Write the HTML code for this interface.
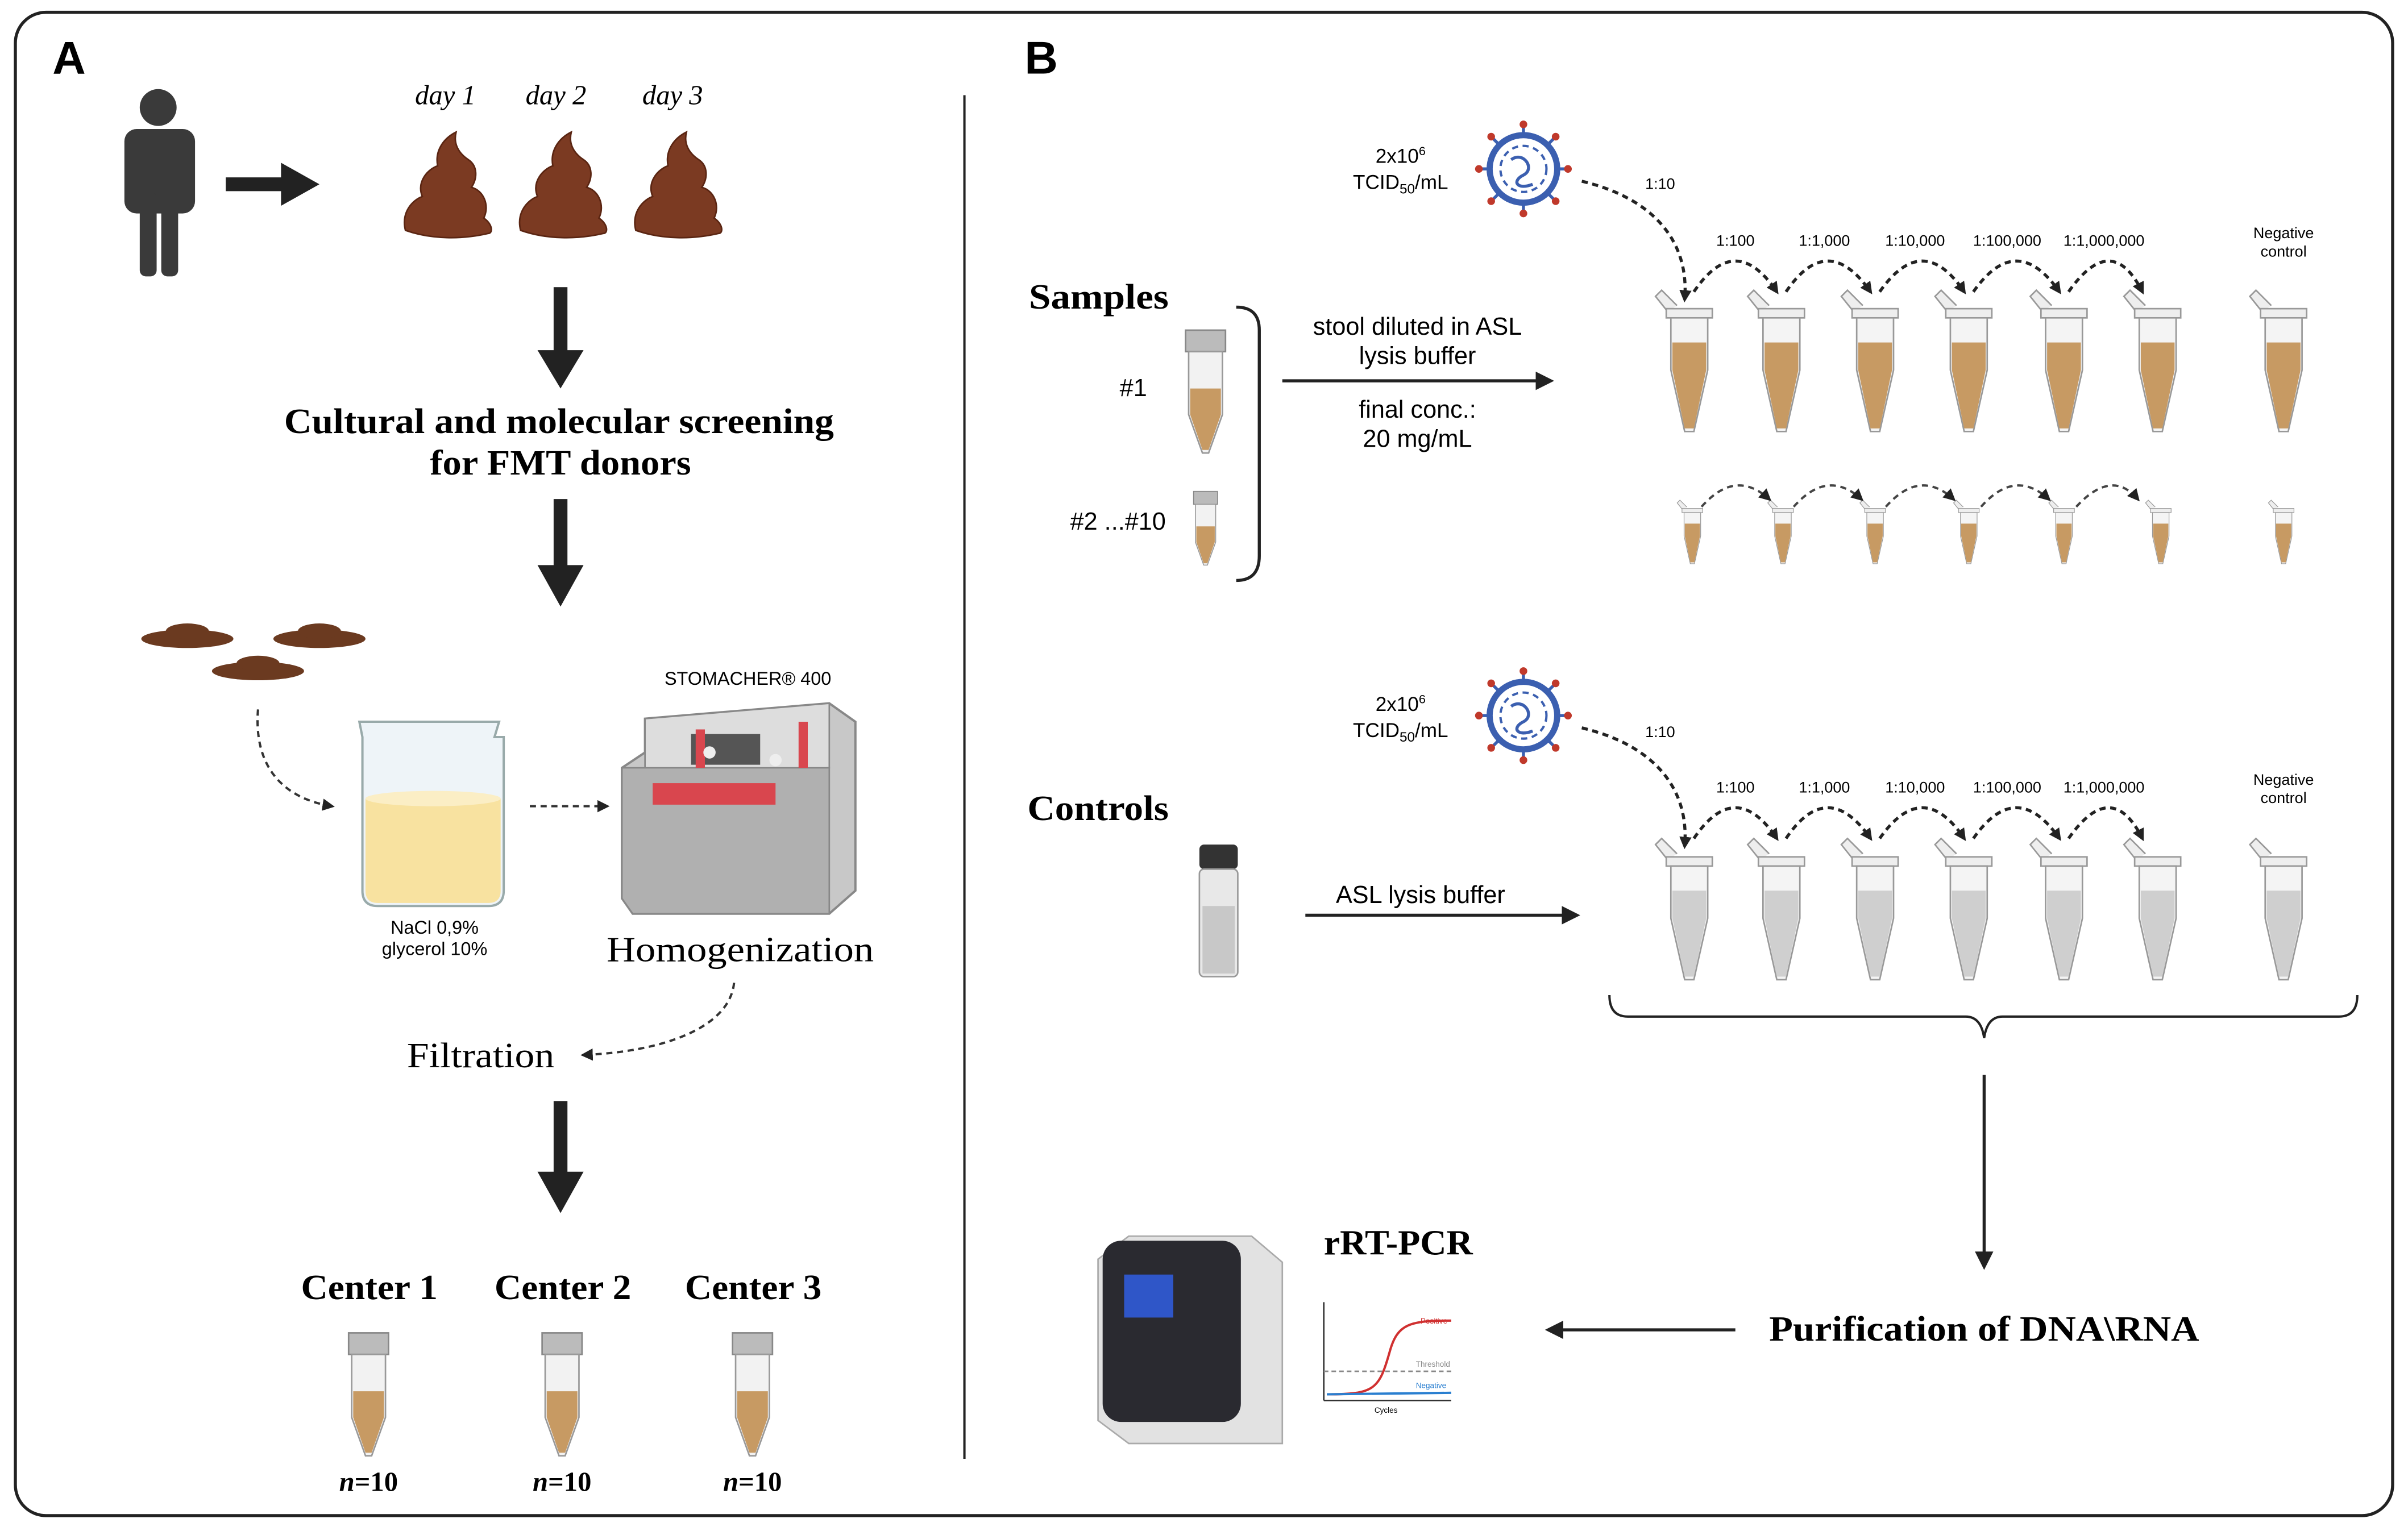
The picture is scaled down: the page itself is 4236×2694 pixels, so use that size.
<!DOCTYPE html>
<html><head><meta charset="utf-8"><style>
html,body{margin:0;padding:0;background:#fff;}
svg{display:block;}
.sf{font-family:"Liberation Serif",serif;font-weight:bold;}
.s{font-family:"Liberation Sans",sans-serif;}
</style></head><body>
<svg width="4236" height="2694" viewBox="0 0 1568 997" preserveAspectRatio="none" xmlns="http://www.w3.org/2000/svg">
<defs>
<marker id="ah" markerWidth="8" markerHeight="8" refX="6" refY="4" orient="auto" markerUnits="userSpaceOnUse"><path d="M0,0 L8,4 L0,8 z" fill="#222"/></marker>
<marker id="ah2" markerWidth="12" markerHeight="12" refX="10" refY="6" orient="auto" markerUnits="userSpaceOnUse"><path d="M0,0 L12,6 L0,12 z" fill="#222"/></marker>
<g id="poop">
<path d="M-27,30 C-30,18 -22,10 -16,8 C-20,-2 -12,-10 -6,-12 C-8,-22 -2,-30 6,-34 C4,-26 8,-20 14,-16 C20,-12 20,-4 16,2 C24,4 28,14 24,22 C30,26 30,32 27,32 C10,36 -10,36 -27,30 z" fill="#7b3a22" stroke="#5a2512" stroke-width="1"/>
</g>
<g id="tubeB">
<path d="M-14,-40 L-22,-50 L-18,-54 L-8,-44" fill="#eee" stroke="#999" stroke-width="1"/>
<rect x="-15" y="-42" width="30" height="6" fill="#eee" stroke="#999" stroke-width="1"/>
<path d="M-12,-36 L12,-36 L12,-2 L3,38 L-3,38 L-12,-2 z" fill="#f4f4f4" stroke="#999" stroke-width="1"/>
<path d="M-11,-20 L11,-20 L11,-2 L3,36 L-3,36 L-11,-2 z" fill="#c79a63"/>
</g>
<g id="tubeG">
<path d="M-14,-40 L-22,-50 L-18,-54 L-8,-44" fill="#eee" stroke="#999" stroke-width="1"/>
<rect x="-15" y="-42" width="30" height="6" fill="#eee" stroke="#999" stroke-width="1"/>
<path d="M-12,-36 L12,-36 L12,-2 L3,38 L-3,38 L-12,-2 z" fill="#f4f4f4" stroke="#999" stroke-width="1"/>
<path d="M-11,-20 L11,-20 L11,-2 L3,36 L-3,36 L-11,-2 z" fill="#cfcfcf"/>
</g>
<g id="falcon">
<rect x="-13" y="0" width="26" height="14" fill="#bbb" stroke="#888"/>
<path d="M-11,14 L11,14 L11,55 L2,80 L-2,80 L-11,55 z" fill="#f2f2f2" stroke="#999"/>
<path d="M-10,38 L10,38 L10,55 L2,78 L-2,78 L-10,55 z" fill="#c79a63"/>
</g>
<g id="virus">
<circle r="22" fill="#fff" stroke="#3b5fb0" stroke-width="4"/>
<circle r="15" fill="none" stroke="#3b5fb0" stroke-width="1.5" stroke-dasharray="4 3"/>
<path d="M-8,-6 C0,-12 8,0 0,4 C-8,8 -4,14 6,10" fill="none" stroke="#3b5fb0" stroke-width="2"/>
<g stroke="#3b5fb0" stroke-width="2">
<line x1="0" y1="-22" x2="0" y2="-28"/><line x1="0" y1="22" x2="0" y2="28"/><line x1="-22" y1="0" x2="-28" y2="0"/><line x1="22" y1="0" x2="28" y2="0"/>
<line x1="15" y1="15" x2="20" y2="20"/><line x1="-15" y1="15" x2="-20" y2="20"/><line x1="15" y1="-15" x2="20" y2="-20"/><line x1="-15" y1="-15" x2="-20" y2="-20"/>
</g>
<g fill="#c0392b"><circle cx="0" cy="-29" r="2.5"/><circle cx="0" cy="29" r="2.5"/><circle cx="29" cy="0" r="2.5"/><circle cx="-29" cy="0" r="2.5"/><circle cx="21" cy="21" r="2.5"/><circle cx="-21" cy="21" r="2.5"/><circle cx="21" cy="-21" r="2.5"/><circle cx="-21" cy="-21" r="2.5"/></g>
</g>
</defs>
<rect x="10" y="8" width="1548" height="979" rx="20" fill="none" stroke="#222" stroke-width="2"/>
<text x="45" y="48" class="s" font-size="30" font-weight="bold" text-anchor="middle">A</text>
<text x="678" y="48" class="s" font-size="30" font-weight="bold" text-anchor="middle">B</text>
<line x1="628" y1="62" x2="628" y2="950" stroke="#222" stroke-width="1.5"/>

<g fill="#3a3a3a"><circle cx="103" cy="70" r="12"/><rect x="81" y="84" width="46" height="55" rx="8"/><rect x="91" y="125" width="11" height="55" rx="4"/><rect x="105" y="125" width="11" height="55" rx="4"/></g>
<line x1="147" y1="120" x2="185" y2="120" stroke="#222" stroke-width="9"/><path d="M183,106 L208,120 L183,134 z" fill="#222"/>
<g font-family="Liberation Serif,serif" font-style="italic" font-size="18" text-anchor="middle"><text x="290" y="68">day 1</text><text x="362" y="68">day 2</text><text x="438" y="68">day 3</text></g>
<use href="#poop" x="291" y="120"/><use href="#poop" x="366" y="120"/><use href="#poop" x="441" y="120"/>
<line x1="365" y1="187" x2="365" y2="232" stroke="#222" stroke-width="9"/><path d="M350,228 L380,228 L365,253 z" fill="#222"/>
<text x="185" y="282" class="sf" font-size="23" textLength="358" lengthAdjust="spacingAndGlyphs">Cultural and molecular screening</text>
<text x="280" y="309" class="sf" font-size="23" textLength="170" lengthAdjust="spacingAndGlyphs">for FMT donors</text>
<line x1="365" y1="325" x2="365" y2="372" stroke="#222" stroke-width="9"/><path d="M350,368 L380,368 L365,395 z" fill="#222"/>
<g fill="#6b3a20"><ellipse cx="122" cy="416" rx="30" ry="6"/><ellipse cx="208" cy="416" rx="30" ry="6"/><ellipse cx="168" cy="437" rx="30" ry="6"/><ellipse cx="122" cy="411" rx="14" ry="5"/><ellipse cx="208" cy="411" rx="14" ry="5"/><ellipse cx="168" cy="432" rx="14" ry="5"/></g>
<path d="M168,462 C165,500 185,520 216,525" fill="none" stroke="#333" stroke-width="1.5" stroke-dasharray="4 3" marker-end="url(#ah)"/>
<path d="M234,470 L325,470 L322,480 L328,480 L328,580 Q328,590 318,590 L246,590 Q236,590 236,580 L236,480 z" fill="#eef4f8" stroke="#9aa" stroke-width="1.5"/>
<path d="M238,520 L326,520 L326,580 Q326,588 318,588 L246,588 Q238,588 238,580 z" fill="#f8e2a0"/>
<ellipse cx="282" cy="520" rx="44" ry="5" fill="#fbeec5"/>
<text x="283" y="608" class="s" font-size="12" text-anchor="middle">NaCl 0,9%</text>
<text x="283" y="622" class="s" font-size="12" text-anchor="middle">glycerol 10%</text>
<line x1="345" y1="525" x2="395" y2="525" stroke="#333" stroke-width="1.5" stroke-dasharray="4 3" marker-end="url(#ah)"/>
<text x="487" y="446" class="s" font-size="12" text-anchor="middle">STOMACHER® 400</text>
<path d="M420,468 L540,458 L557,470 L557,580 L540,595 L412,595 L405,585 L405,500 L420,490 z" fill="#c8c8c8" stroke="#888" stroke-width="1.5"/>
<path d="M420,468 L540,458 L540,500 L420,505 z" fill="#ddd" stroke="#888"/>
<path d="M405,500 L540,500 L540,595 L412,595 L405,585 z" fill="#b0b0b0" stroke="#888"/>
<rect x="450" y="478" width="45" height="20" fill="#555"/>
<rect x="425" y="510" width="80" height="14" fill="#d9464e"/><rect x="453" y="475" width="6" height="25" fill="#d9464e"/><rect x="520" y="470" width="6" height="30" fill="#d9464e"/>
<circle cx="462" cy="490" r="4" fill="#eee"/><circle cx="505" cy="495" r="4" fill="#eee"/>
<text x="395" y="626" font-family="Liberation Serif,serif" font-size="23" textLength="174" lengthAdjust="spacingAndGlyphs">Homogenization</text>
<path d="M478,640 C475,670 430,685 380,687" fill="none" stroke="#333" stroke-width="1.5" stroke-dasharray="4 3" marker-end="url(#ah)"/>
<text x="265" y="695" font-family="Liberation Serif,serif" font-size="23" textLength="96" lengthAdjust="spacingAndGlyphs">Filtration</text>
<line x1="365" y1="717" x2="365" y2="767" stroke="#222" stroke-width="9"/><path d="M350,763 L380,763 L365,790 z" fill="#222"/>
<g class="sf" font-size="23"><text x="196" y="846" textLength="89" lengthAdjust="spacingAndGlyphs">Center 1</text><text x="322" y="846" textLength="89" lengthAdjust="spacingAndGlyphs">Center 2</text><text x="446" y="846" textLength="89" lengthAdjust="spacingAndGlyphs">Center 3</text></g>
<use href="#falcon" x="240" y="868"/><use href="#falcon" x="366" y="868"/><use href="#falcon" x="490" y="868"/>
<g class="sf" font-size="18" text-anchor="middle"><text x="240" y="971"><tspan font-style="italic">n</tspan>=10</text><text x="366" y="971"><tspan font-style="italic">n</tspan>=10</text><text x="490" y="971"><tspan font-style="italic">n</tspan>=10</text></g>

<g class="s" font-size="13" text-anchor="middle"><text x="912" y="106">2x10<tspan font-size="8" dy="-5">6</tspan></text><text x="912" y="123">TCID<tspan font-size="9" dy="3">50</tspan><tspan dy="-3">/mL</tspan></text></g>
<use href="#virus" x="992" y="110"/>
<path d="M1030,118 C1080,130 1100,160 1097,195" fill="none" stroke="#222" stroke-width="2" stroke-dasharray="4 3" marker-end="url(#ah)"/>
<g class="s" font-size="10" text-anchor="middle"><text x="1081" y="123">1:10</text><text x="1130" y="160">1:100</text><text x="1188" y="160">1:1,000</text><text x="1247" y="160">1:10,000</text><text x="1307" y="160">1:100,000</text><text x="1370" y="160">1:1,000,000</text><text x="1487" y="155">Negative</text><text x="1487" y="167">control</text></g>
<g fill="none" stroke="#222" stroke-width="2" stroke-dasharray="4 3" marker-end="url(#ah)">
<path d="M1103,190 Q1130,150 1157,190"/><path d="M1163,190 Q1190,150 1218,190"/><path d="M1224,190 Q1252,150 1279,190"/><path d="M1285,190 Q1313,150 1341,190"/><path d="M1347,190 Q1375,150 1395,190"/>
</g>
<use href="#tubeB" x="1100" y="243"/><use href="#tubeB" x="1160" y="243"/><use href="#tubeB" x="1221" y="243"/><use href="#tubeB" x="1282" y="243"/><use href="#tubeB" x="1344" y="243"/><use href="#tubeB" x="1405" y="243"/><use href="#tubeB" x="1487" y="243"/>
<g>
<use href="#tubeB" transform="translate(1102,350) scale(0.45)"/><use href="#tubeB" transform="translate(1161,350) scale(0.45)"/><use href="#tubeB" transform="translate(1221,350) scale(0.45)"/><use href="#tubeB" transform="translate(1282,350) scale(0.45)"/><use href="#tubeB" transform="translate(1344,350) scale(0.45)"/><use href="#tubeB" transform="translate(1407,350) scale(0.45)"/><use href="#tubeB" transform="translate(1487,350) scale(0.45)"/>
</g>
<g fill="none" stroke="#444" stroke-width="1.5" stroke-dasharray="4 3" marker-end="url(#ah)">
<path d="M1108,330 Q1130,305 1152,325"/><path d="M1168,330 Q1190,305 1212,325"/><path d="M1228,330 Q1250,305 1272,325"/><path d="M1290,330 Q1312,305 1334,325"/><path d="M1352,330 Q1375,305 1392,325"/>
</g>
<text x="670" y="201" class="sf" font-size="23" textLength="91" lengthAdjust="spacingAndGlyphs">Samples</text>
<use href="#falcon" x="785" y="215"/>
<use href="#falcon" transform="translate(785,320) scale(0.6)"/>
<text x="738" y="258" class="s" font-size="16" text-anchor="middle">#1</text>
<text x="728" y="345" class="s" font-size="16" text-anchor="middle">#2 ...#10</text>
<path d="M805,200 Q820,200 820,215 L820,362 Q820,378 805,378" fill="none" stroke="#222" stroke-width="2"/>
<line x1="835" y1="248" x2="1010" y2="248" stroke="#222" stroke-width="2" marker-end="url(#ah2)"/>
<g class="s" font-size="16" text-anchor="middle"><text x="923" y="218">stool diluted in ASL</text><text x="923" y="237">lysis buffer</text><text x="923" y="272">final conc.:</text><text x="923" y="291">20 mg/mL</text></g>

<g class="s" font-size="13" text-anchor="middle"><text x="912" y="463">2x10<tspan font-size="8" dy="-5">6</tspan></text><text x="912" y="480">TCID<tspan font-size="9" dy="3">50</tspan><tspan dy="-3">/mL</tspan></text></g>
<use href="#virus" x="992" y="466"/>
<path d="M1030,474 C1080,486 1100,516 1097,551" fill="none" stroke="#222" stroke-width="2" stroke-dasharray="4 3" marker-end="url(#ah)"/>
<g class="s" font-size="10" text-anchor="middle"><text x="1081" y="480">1:10</text><text x="1130" y="516">1:100</text><text x="1188" y="516">1:1,000</text><text x="1247" y="516">1:10,000</text><text x="1307" y="516">1:100,000</text><text x="1370" y="516">1:1,000,000</text><text x="1487" y="511">Negative</text><text x="1487" y="523">control</text></g>
<g fill="none" stroke="#222" stroke-width="2" stroke-dasharray="4 3" marker-end="url(#ah)">
<path d="M1103,546 Q1130,506 1157,546"/><path d="M1163,546 Q1190,506 1218,546"/><path d="M1224,546 Q1252,506 1279,546"/><path d="M1285,546 Q1313,506 1341,546"/><path d="M1347,546 Q1375,506 1395,546"/>
</g>
<use href="#tubeG" x="1100" y="600"/><use href="#tubeG" x="1160" y="600"/><use href="#tubeG" x="1221" y="600"/><use href="#tubeG" x="1282" y="600"/><use href="#tubeG" x="1344" y="600"/><use href="#tubeG" x="1405" y="600"/><use href="#tubeG" x="1487" y="600"/>
<text x="669" y="534" class="sf" font-size="23" textLength="92" lengthAdjust="spacingAndGlyphs">Controls</text>
<rect x="781" y="550" width="25" height="16" rx="3" fill="#333"/>
<rect x="781" y="566" width="25" height="70" rx="3" fill="#e8e8e8" stroke="#999"/>
<rect x="783" y="590" width="21" height="44" fill="#c8c8c8"/>
<line x1="850" y1="596" x2="1027" y2="596" stroke="#222" stroke-width="2" marker-end="url(#ah2)"/>
<text x="925" y="588" class="s" font-size="16" text-anchor="middle">ASL lysis buffer</text>
<path d="M1048,648 Q1048,662 1060,662 L1280,662 Q1290,662 1292,676 Q1294,662 1304,662 L1523,662 Q1535,662 1535,648" fill="none" stroke="#222" stroke-width="1.5"/>
<line x1="1292" y1="700" x2="1292" y2="825" stroke="#222" stroke-width="2" marker-end="url(#ah2)"/>
<text x="1152" y="873" class="sf" font-size="23" textLength="280" lengthAdjust="spacingAndGlyphs">Purification of DNA\RNA</text>
<line x1="1130" y1="866" x2="1008" y2="866" stroke="#222" stroke-width="2" marker-end="url(#ah2)"/>
<text x="862" y="817" class="sf" font-size="23" textLength="97" lengthAdjust="spacingAndGlyphs">rRT-PCR</text>
<path d="M735,805 L815,805 L835,822 L835,940 L735,940 L715,925 L715,820 z" fill="#e2e2e2" stroke="#aaa"/>
<rect x="718" y="808" width="90" height="118" rx="12" fill="#2a2a30"/>
<rect x="732" y="830" width="32" height="28" fill="#2f56c8"/>
<line x1="862" y1="848" x2="862" y2="912" stroke="#333"/><line x1="862" y1="912" x2="945" y2="912" stroke="#333"/>
<line x1="862" y1="893" x2="945" y2="893" stroke="#888" stroke-dasharray="3 2"/>
<path d="M864,908 C895,908 898,905 905,880 C910,862 918,860 945,860" fill="none" stroke="#d03030" stroke-width="1.5"/>
<line x1="864" y1="908" x2="945" y2="907" stroke="#2a7fd0" stroke-width="1.5"/>
<g class="s" font-size="5"><text x="925" y="862" fill="#d03030">Positive</text><text x="922" y="890" fill="#888">Threshold</text><text x="922" y="904" fill="#2a7fd0">Negative</text><text x="895" y="920">Cycles</text></g>
</svg>
</body></html>
